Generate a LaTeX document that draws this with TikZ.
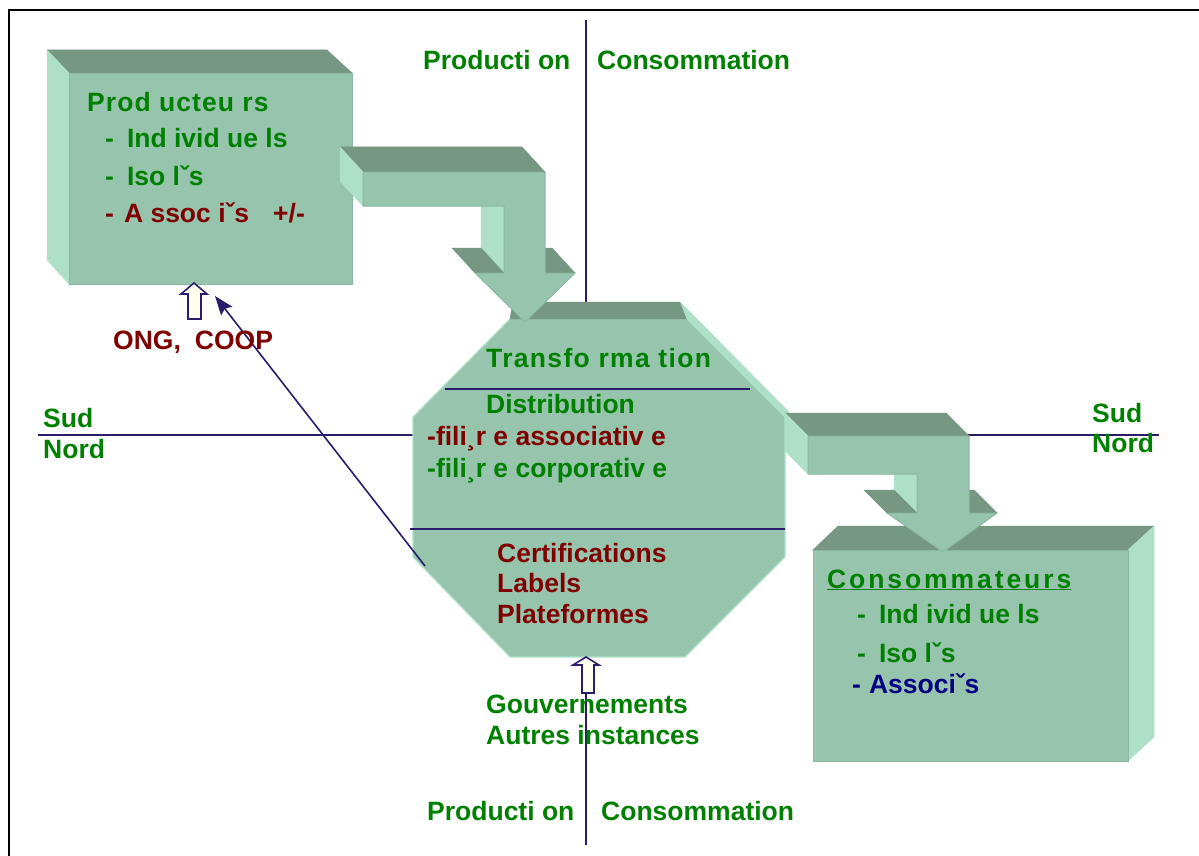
\documentclass[tikz,border=0pt]{standalone}
\usepackage{fontspec}
\setmainfont{Liberation Sans}
\usetikzlibrary{arrows.meta}
\definecolor{front}{HTML}{97C4AD}
\definecolor{topf}{HTML}{769782}
\definecolor{lightf}{HTML}{AEE0C8}
\definecolor{edgef}{HTML}{8AB8A0}
\definecolor{navyline}{HTML}{2B1B6B}
\definecolor{tgreen}{HTML}{008000}
\definecolor{tred}{HTML}{800000}
\definecolor{tnavy}{HTML}{000080}
\definecolor{cream}{HTML}{FFFFF0}
\tikzset{
  frontface/.style={fill=front, draw=edgef, line width=1pt, line join=miter},
  topface/.style={fill=topf, draw=topf, line width=0.5pt},
  sideface/.style={fill=lightf, draw=lightf, line width=0.5pt},
  divline/.style={draw=navyline, line width=1.6pt},
  lbl/.style={anchor=base west, inner sep=0pt, font=\bfseries\fontsize{26.5}{30}\selectfont},
  hollow/.style={fill=cream, draw=navyline, line width=1.6pt, line join=miter},
}
\begin{document}
\begin{tikzpicture}[x=1pt,y=-1pt]
\useasboundingbox (0,0) rectangle (1199,856);
% frame
\draw[line width=2pt] (1199,10) -- (9,10) -- (9,856);

% guide lines
\coordinate (vtop) at (586,20);
\coordinate (vtopend) at (586,302);
\coordinate (vbot) at (586,693);
\coordinate (vbotend) at (586,845);
\draw[divline] (vtop) -- (vtopend);
\draw[divline] (vbot) -- (vbotend);
\coordinate (hl1) at (38,435);
\coordinate (hl2) at (413,435);
\coordinate (hr1) at (785,435);
\coordinate (hr2) at (1159,435);
\draw[divline] (hl1) -- (hl2);
\draw[divline] (hr1) -- (hr2);

% Box 1 : Producteurs
\path[topface] (47,50) -- (327,50) -- (352,73) -- (69,73) -- cycle;
\path[sideface] (47,50) -- (69,73) -- (69,284) -- (47,260) -- cycle;
\node[frontface, minimum width=283pt, minimum height=211pt, anchor=north west, inner sep=0pt] (prod) at (69,73) {};

% Octagon
\path[fill=front, draw=lightf, line width=1.2pt, line join=miter]
  (510,319) -- (687,319) -- (785,417) -- (785,557) -- (685,657) -- (510,657) -- (413,557) -- (413,417) -- cycle;
\path[topface] (513,302) -- (680,302) -- (687,319) -- (510,319) -- cycle;
\path[sideface] (681,303) -- (789,412) -- (785,417) -- (687,319) -- cycle;
\coordinate (oct) at (599,488);
\coordinate (o1a) at (445,389);
\coordinate (o1b) at (750,389);
\coordinate (o2a) at (410,529);
\coordinate (o2b) at (785,529);
\draw[divline] (o1a) -- (o1b);
\draw[divline] (o2a) -- (o2b);

% Arrow 1
\path[topface] (363,172) -- (545,172) -- (522,147) -- (340,147) -- cycle;
\path[sideface] (363,206) -- (363,172) -- (340,147) -- (340,181) -- cycle;
\path[sideface] (504,273) -- (504,206) -- (481,181) -- (481,248) -- cycle;
\path[topface] (475,273) -- (504,273) -- (481,248) -- (452,248) -- cycle;
\path[topface] (545,273) -- (575,273) -- (552,248) -- (522,248) -- cycle;
\path[frontface] (363,172) -- (545,172) -- (545,273) -- (575,273) -- (525,322) -- (475,273) -- (504,273) -- (504,206) -- (363,206) -- cycle;

% Box 2 : Consommateurs
\path[topface] (813,550) -- (838,526) -- (1154,526) -- (1128,550) -- cycle;
\path[sideface] (1128,550) -- (1154,526) -- (1154,737) -- (1128,761) -- cycle;
\node[frontface, minimum width=315pt, minimum height=211pt, anchor=north west, inner sep=0pt] (cons) at (813,550) {};

% Arrow 2
\path[topface] (808,436) -- (969,436) -- (946,413) -- (785,413) -- cycle;
\path[sideface] (808,474) -- (808,436) -- (785,413) -- (785,451) -- cycle;
\path[sideface] (917,513) -- (917,474) -- (894,451) -- (894,490) -- cycle;
\path[topface] (887,513) -- (917,513) -- (894,490) -- (864,490) -- cycle;
\path[topface] (969,513) -- (997,513) -- (974,490) -- (946,490) -- cycle;
\path[frontface] (808,436) -- (969,436) -- (969,513) -- (997,513) -- (943,552) -- (887,513) -- (917,513) -- (917,474) -- (808,474) -- cycle;

% hollow arrows
\path[hollow] (194,283) -- (207,294) -- (201,294) -- (201,319) -- (188,319) -- (188,294) -- (181,294) -- cycle;
\path[hollow] (586,657) -- (599,665) -- (594,665) -- (594,693) -- (582,693) -- (582,665) -- (573,665) -- cycle;

% diagonal arrow
\coordinate (dstart) at (425,566);
\coordinate (dend) at (215,296);
\draw[divline, -{Stealth[length=19pt,width=14pt,inset=3pt]}] (dstart) -- (dend);

% texts
\node[lbl, text=tgreen] (tp1) at (423,70) {Producti on};
\node[lbl, text=tgreen] (tc1) at (597,70) {Consommation};
\node[lbl, text=tgreen] (tp2) at (427,820) {Producti on};
\node[lbl, text=tgreen] (tc2) at (601,820) {Consommation};

\node[lbl, text=tgreen] (b1a) at (87,112) {\addfontfeature{LetterSpace=4}Prod ucteu rs};
\node[lbl, text=tgreen] (b1b) at (105,148) {-\hspace{13pt}Ind ivid ue ls};
\node[lbl, text=tgreen] (b1c) at (105,185) {-\hspace{13pt}Iso lˇs};
\node[lbl, text=tred] (b1d) at (105,222) {-\hspace{10pt}A ssoc iˇs\hspace{24pt}+/-};

\node[lbl, text=tred] (ong) at (113,349) {ONG,\hspace{14pt}COOP};

\node[lbl, text=tgreen] (sud1) at (43,427) {Sud};
\node[lbl, text=tgreen] (nord1) at (43,458) {Nord};
\node[lbl, text=tgreen] (sud2) at (1092,422) {Sud};
\node[lbl, text=tgreen] (nord2) at (1092,452) {Nord};

\node[lbl, text=tgreen] (o1) at (486,367) {\addfontfeature{LetterSpace=5}Transfo rma tion};
\node[lbl, text=tgreen] (o2) at (486,413) {Distribution};
\node[lbl, text=tred] (o3) at (427,445) {-fili¸r e associativ e};
\node[lbl, text=tgreen] (o4) at (427,477) {-fili¸r e corporativ e};
\node[lbl, text=tred] (o5) at (497,562) {Certifications};
\node[lbl, text=tred] (o6) at (497,592) {Labels};
\node[lbl, text=tred] (o7) at (497,623) {Plateformes};

\node[lbl, text=tgreen] (g1) at (486,713) {Gouvernements};
\node[lbl, text=tgreen] (g2) at (486,744) {Autres instances};

\node[lbl, text=tgreen] (b2a) at (827,588) {\addfontfeature{LetterSpace=11}\underline{Consommateurs}};
\node[lbl, text=tgreen] (b2b) at (857,623) {-\hspace{13pt}Ind ivid ue ls};
\node[lbl, text=tgreen] (b2c) at (857,662) {-\hspace{13pt}Iso lˇs};
\node[lbl, text=tnavy] (b2d) at (852,693) {-\hspace{8pt}Associˇs};
\end{tikzpicture}
\end{document}
